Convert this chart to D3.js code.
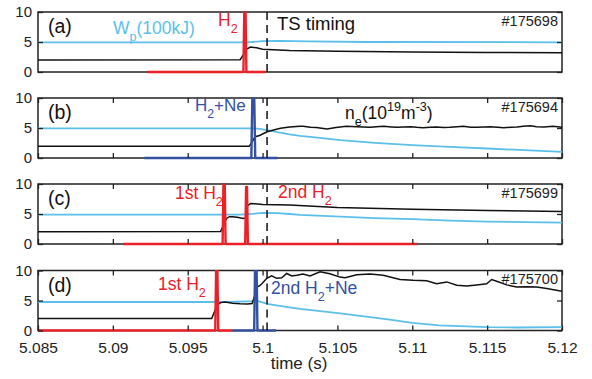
<!DOCTYPE html>
<html><head><meta charset="utf-8">
<script src="https://cdn.jsdelivr.net/npm/d3@7/dist/d3.min.js"></script>
<style>
body{margin:0;background:#fff}
svg{display:block;font-family:"Liberation Sans",Arial,sans-serif}
</style>
</head><body>
<svg id="chart" width="592" height="379"></svg>
<script>
// ---------------- data ----------------
const xTicks = [5.085, 5.09, 5.095, 5.1, 5.105, 5.11, 5.115, 5.12];
const xTickLabels = ["5.085", "5.09", "5.095", "5.1", "5.105", "5.11", "5.115", "5.12"];
const yTicks = [0, 5, 10];
const yTickLabels = ["0", "5", "10"];
const tsTiming = 5.1003;
const panelLabels = ["(a)", "(b)", "(c)", "(d)"];
const shotNumbers = ["#175698", "#175694", "#175699", "#175700"];

// panel (a) #175698
const wpA_t = [5.085, 5.0985, 5.0993, 5.1, 5.1012, 5.103, 5.107, 5.12];
const wpA   = [4.95, 4.95, 5.0, 5.15, 5.18, 5.1, 5.0, 4.95];
const neA_t = [5.085, 5.0985, 5.0987, 5.0989, 5.0992, 5.0996, 5.1, 5.1018, 5.105, 5.11, 5.115, 5.12];
const neA   = [2.0, 2.05, 2.8, 3.8, 4.15, 4.05, 3.8, 3.6, 3.45, 3.33, 3.27, 3.22];
const gasA_t = [5.0923, 5.09872, 5.09878, 5.09886, 5.09892, 5.1002];
const gasA   = [0, 0, 10.6, 10.6, 0, 0];

// panel (b) #175694
const wpB_t = [5.085, 5.0993, 5.0998, 5.1003, 5.101, 5.1018, 5.1025, 5.1035, 5.1052, 5.1075, 5.11, 5.1125, 5.115, 5.1175, 5.12];
const wpB   = [4.95, 4.95, 4.85, 4.66, 4.3, 3.94, 3.7, 3.43, 2.98, 2.52, 2.14, 1.85, 1.58, 1.3, 1.01];
const neB_t = [5.085, 5.0991, 5.0993, 5.0995, 5.0998, 5.1003, 5.1008, 5.1012, 5.1018, 5.1025, 5.1027, 5.1032, 5.1036, 5.1043, 5.1049, 5.1056,
               5.1063, 5.1067, 5.1072, 5.1076, 5.1081, 5.1086, 5.109, 5.1094, 5.1099, 5.1103, 5.1107, 5.1112, 5.1116, 5.1121, 5.1125,
               5.113, 5.1134, 5.1139, 5.1143, 5.1148, 5.1152, 5.1157, 5.1161, 5.1166, 5.117, 5.1174, 5.1179, 5.1183, 5.1188, 5.1194, 5.12];
const neB   = [1.95, 1.95, 2.7, 3.55, 3.75, 4.38, 4.7, 4.94, 5.15, 5.3, 5.28, 5.12, 5.1, 4.85, 5.1, 5.3,
               5.22, 5.16, 5.11, 5.2, 5.28, 5.18, 5.11, 5.17, 5.22, 5.12, 5.06, 5.14, 5.17, 5.1, 5.11,
               5.22, 5.28, 5.14, 5.11, 5.18, 5.22, 5.12, 5.06, 5.12, 5.17, 5.3, 5.39, 5.22, 5.17, 5.28, 5.11];
const gasB_t = [5.0921, 5.09925, 5.09932, 5.09944, 5.09951, 5.101];
const gasB   = [0, 0, 10.6, 10.6, 0, 0];

// panel (c) #175699
const wpC_t = [5.085, 5.0985, 5.0995, 5.1, 5.101, 5.1018, 5.1025, 5.1052, 5.1075, 5.11, 5.1125, 5.115, 5.1175, 5.12];
const wpC   = [4.9, 4.9, 5.05, 5.2, 5.15, 5.0, 4.86, 4.57, 4.3, 4.13, 3.9, 3.74, 3.63, 3.57];
const neC_t = [5.085, 5.0972, 5.0974, 5.0976, 5.0978, 5.098, 5.0984, 5.0987, 5.0989, 5.09895, 5.099, 5.0992, 5.0995, 5.1, 5.1018, 5.105, 5.11, 5.115, 5.12];
const neC   = [2.05, 2.1, 3.2, 4.3, 4.55, 4.55, 4.4, 4.25, 4.4, 5.5, 6.4, 6.75, 6.7, 6.6, 6.5, 6.1, 5.8, 5.6, 5.4];
const gasC_t = [5.0907, 5.09733, 5.09739, 5.09747, 5.09753, 5.09884, 5.0989, 5.09896, 5.09902, 5.1103];
const gasC   = [0, 0, 10.6, 10.6, 0, 0, 9.5, 9.5, 0, 0];

// panel (d) #175700
const wpD_t = [5.085, 5.0975, 5.099, 5.0997, 5.1004, 5.1018, 5.1025, 5.1052, 5.1085, 5.11, 5.1118, 5.115, 5.117, 5.12];
const wpD   = [4.75, 4.75, 4.85, 4.88, 4.4, 3.85, 3.6, 2.85, 1.8, 1.26, 0.87, 0.55, 0.5, 0.55];
const neD_t = [5.085, 5.0966, 5.0968, 5.097, 5.0972, 5.0975, 5.098, 5.0985, 5.099, 5.0993, 5.0995, 5.09961, 5.09983, 5.1, 5.10028,
               5.10061, 5.10094, 5.10128, 5.10161, 5.10195, 5.10228, 5.1027, 5.10317, 5.10384, 5.1045, 5.10517, 5.10551, 5.10629,
               5.10718, 5.10806, 5.10918, 5.11005, 5.11096, 5.11163, 5.1123, 5.11297, 5.11363, 5.1143, 5.11497, 5.1153, 5.11564,
               5.1163, 5.11697, 5.11764, 5.11831, 5.11898, 5.12];
const neD   = [2.0, 2.0, 3.2, 4.3, 4.65, 4.75, 4.55, 4.45, 4.4, 4.5, 6.0, 7.2, 7.5, 7.9, 8.7,
               9.1, 8.7, 8.8, 9.5, 9.1, 9.2, 9.4, 9.1, 9.8, 9.45, 8.9, 8.8, 9.3,
               9.4, 9.2, 8.5, 8.36, 8.3, 7.8, 8.1, 7.54, 7.4, 7.6, 7.8, 8.5, 8.2,
               7.6, 7.27, 7.3, 7.25, 7.0, 6.56];
const gasD1_t = [5.085, 5.09684, 5.0969, 5.09698, 5.09704, 5.098];
const gasD1   = [0, 0, 10.6, 10.6, 0, 0];
const gasD2_t = [5.098, 5.09944, 5.0995, 5.0996, 5.09966, 5.1009];
const gasD2   = [0, 0, 10.6, 10.6, 0, 0];

// ---------------- styles ----------------
const C_WP = "#5bbfea", C_NE = "#111", C_RED = "#ec2027", C_BLUE = "#3351a3", C_AX = "#222";

const svg = d3.select("#chart");
const left = 38, right = 562, panelH = 60;
const tops = [12, 98, 184, 270.5];
const x = d3.scaleLinear().domain([5.085, 5.12]).range([left, right]);

const panels = [
  {wp: [wpA_t, wpA], ne: [neA_t, neA], gas: [[gasA_t, gasA, C_RED]], xt: false},
  {wp: [wpB_t, wpB], ne: [neB_t, neB], gas: [[gasB_t, gasB, C_BLUE]], xt: true},
  {wp: [wpC_t, wpC], ne: [neC_t, neC], gas: [[gasC_t, gasC, C_RED]], xt: true},
  {wp: [wpD_t, wpD], ne: [neD_t, neD], gas: [[gasD1_t, gasD1, C_RED], [gasD2_t, gasD2, C_BLUE]], xt: true}
];

function rich(g, xp, yp, parts, fill, size, anchor) {
  const t = g.append("text").attr("x", xp).attr("y", yp).attr("fill", fill)
    .attr("font-size", size).attr("text-anchor", anchor || "start");
  let off = 0;
  parts.forEach(p => {
    const shift = p.sub ? size * 0.42 : (p.sup ? -size * 0.42 : 0);
    const ts = t.append("tspan").text(p.t).attr("dy", shift - off);
    if (p.sub || p.sup) ts.attr("font-size", size * 0.72);
    off = shift;
  });
  return t;
}

panels.forEach((p, i) => {
  const top = tops[i], bot = top + panelH;
  const y = d3.scaleLinear().domain([0, 10]).range([bot, top]);
  const g = svg.append("g");
  const clipId = "clip" + i;
  svg.append("clipPath").attr("id", clipId).append("rect")
    .attr("x", left).attr("y", top - 0.5).attr("width", right - left).attr("height", panelH + 2.5);

  // frame (drawn first, data lines on top)
  g.append("rect").attr("x", left).attr("y", top).attr("width", right - left).attr("height", panelH)
    .attr("fill", "none").attr("stroke", C_AX).attr("stroke-width", 1.5);

  const line = d3.line().x(d => x(d[0])).y(d => y(d[1]));
  const plot = g.append("g").attr("clip-path", `url(#${clipId})`);

  plot.append("path").datum(d3.zip(p.wp[0], p.wp[1])).attr("d", line)
    .attr("fill", "none").attr("stroke", C_WP).attr("stroke-width", 1.8);
  plot.append("path").datum(d3.zip(p.ne[0], p.ne[1])).attr("d", line)
    .attr("fill", "none").attr("stroke", C_NE).attr("stroke-width", 1.5);
  p.gas.forEach(gs => {
    plot.append("path").datum(d3.zip(gs[0], gs[1])).attr("d", line)
      .attr("fill", "none").attr("stroke", gs[2]).attr("stroke-width", 2.4)
      .attr("stroke-linejoin", "round");
  });

  // inner ticks
  if (p.xt) {
    g.append("g").attr("transform", `translate(0,${bot})`)
      .call(d3.axisTop(x).tickValues(xTicks).tickSize(5).tickFormat(""))
      .call(s => s.select(".domain").remove())
      .call(s => s.selectAll("line").attr("stroke", C_AX).attr("stroke-width", 1.3));
    g.append("g").attr("transform", `translate(0,${top})`)
      .call(d3.axisBottom(x).tickValues(xTicks).tickSize(5).tickFormat(""))
      .call(s => s.select(".domain").remove())
      .call(s => s.selectAll("line").attr("stroke", C_AX).attr("stroke-width", 1.3));
  }
  g.append("g").attr("transform", `translate(${left},0)`)
    .call(d3.axisRight(y).tickValues(yTicks).tickSize(5).tickFormat(""))
    .call(s => s.select(".domain").remove())
    .call(s => s.selectAll("line").attr("stroke", C_AX).attr("stroke-width", 1.3));
  g.append("g").attr("transform", `translate(${right},0)`)
    .call(d3.axisLeft(y).tickValues(yTicks).tickSize(5).tickFormat(""))
    .call(s => s.select(".domain").remove())
    .call(s => s.selectAll("line").attr("stroke", C_AX).attr("stroke-width", 1.3));

  // y tick labels
  g.append("g").attr("transform", `translate(${left},0)`)
    .call(d3.axisLeft(y).tickValues(yTicks).tickSize(0).tickPadding(6)
      .tickFormat((d, k) => yTickLabels[k]))
    .call(s => s.select(".domain").remove())
    .call(s => s.selectAll("text").attr("font-size", 15).attr("fill", "#222")
      .attr("font-family", "Liberation Sans, Arial, sans-serif"));

  // TS timing dashed line
  g.append("line").attr("x1", x(tsTiming)).attr("x2", x(tsTiming)).attr("y1", top).attr("y2", bot)
    .attr("stroke", "#111").attr("stroke-width", 1.5).attr("stroke-dasharray", "8,5");

  // panel label & shot number
  g.append("text").attr("x", 48).attr("y", top + 21).attr("font-size", 19.5).attr("fill", "#111").text(panelLabels[i]);
  g.append("text").attr("x", 558).attr("y", top + 13.5).attr("text-anchor", "end")
    .attr("font-size", 14.5).attr("fill", "#222").text(shotNumbers[i]);
});

// annotations
rich(svg, 113, 33.5, [{t: "W"}, {t: "p", sub: true}, {t: "(100kJ)"}], C_WP, 17.5);
rich(svg, 218, 26, [{t: "H"}, {t: "2", sub: true}], C_RED, 17.5);
svg.append("text").attr("x", 277).attr("y", 29.5).attr("font-size", 18.5).attr("fill", "#111").text("TS timing");

rich(svg, 195, 111, [{t: "H"}, {t: "2", sub: true}, {t: "+Ne"}], C_BLUE, 17);
rich(svg, 345, 118.5, [{t: "n"}, {t: "e", sub: true}, {t: "(10"}, {t: "19", sup: true}, {t: "m"}, {t: "-3", sup: true}, {t: ")"}], "#111", 17.5);

rich(svg, 175, 199, [{t: "1st H"}, {t: "2", sub: true}], C_RED, 17.5);
rich(svg, 278, 198, [{t: "2nd H"}, {t: "2", sub: true}], C_RED, 17.5);

rich(svg, 158, 290, [{t: "1st H"}, {t: "2", sub: true}], C_RED, 17.5);
rich(svg, 271, 294, [{t: "2nd H"}, {t: "2", sub: true}, {t: "+Ne"}], C_BLUE, 17.5);

// x tick labels (bottom)
svg.append("g").attr("transform", `translate(0,${tops[3] + panelH})`)
  .call(d3.axisBottom(x).tickValues(xTicks).tickSize(0).tickPadding(11)
    .tickFormat((d, k) => xTickLabels[k]))
  .call(s => s.select(".domain").remove())
  .call(s => s.selectAll("text").attr("font-size", 15.5).attr("fill", "#222")
    .attr("font-family", "Liberation Sans, Arial, sans-serif"));

svg.append("text").attr("x", 299).attr("y", 369).attr("text-anchor", "middle")
  .attr("font-size", 17).attr("fill", "#222").text("time (s)");
</script>
</body></html>
